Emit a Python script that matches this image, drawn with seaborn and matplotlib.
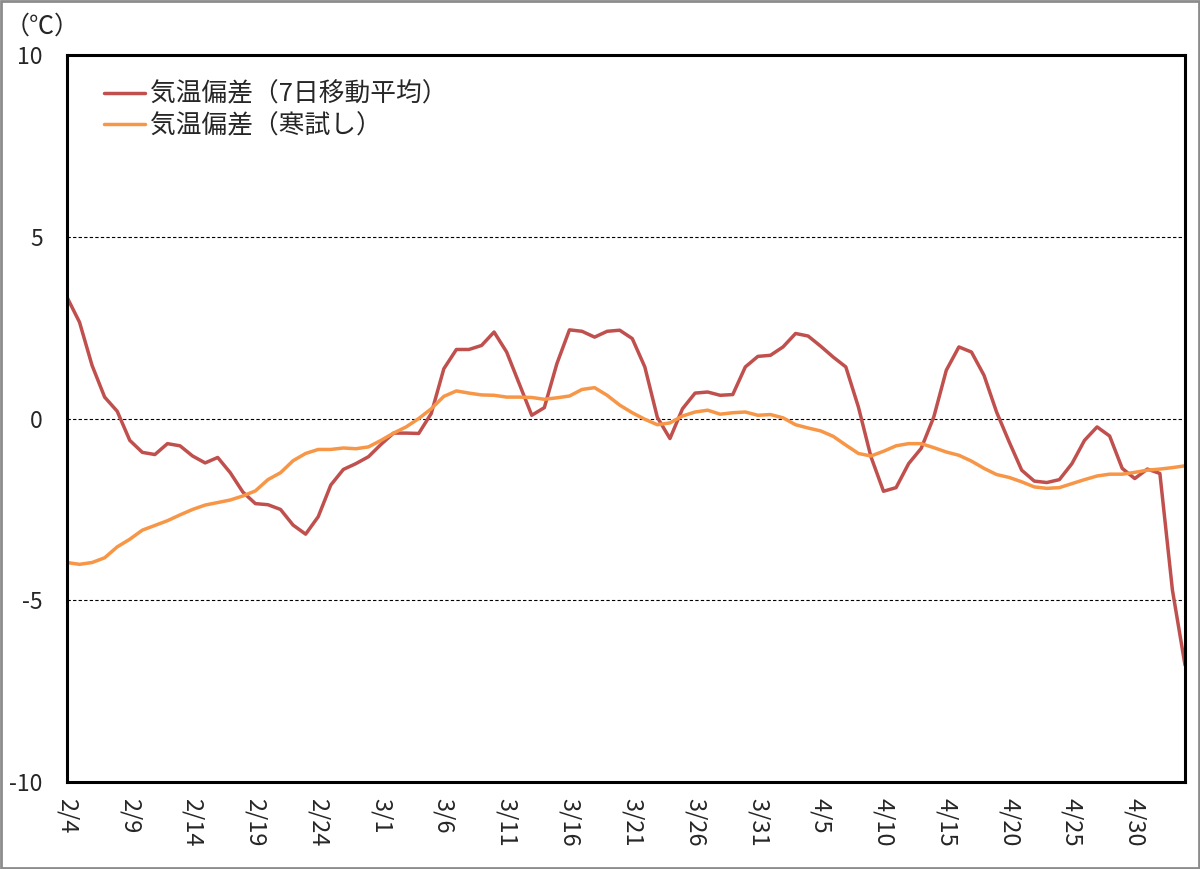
"""
気温偏差（7日移動平均）と寒試しの比較グラフ
"""

import pandas as pd
import seaborn as sns
import matplotlib.pyplot as plt

# 2/4 から 5/4 までの日付（平年）
dates = pd.date_range("2019-02-04", "2019-05-04", freq="D")

temp_7day = [
    3.34, 2.65, 1.46, 0.59, 0.20, -0.60, -0.93, -0.99, -0.69, -0.75,
    -1.03, -1.22, -1.07, -1.49, -2.02, -2.34, -2.37, -2.50, -2.93, -3.18,
    -2.70, -1.83, -1.40, -1.24, -1.05, -0.71, -0.40, -0.40, -0.41, 0.14,
    1.37, 1.90, 1.90, 2.01, 2.38, 1.83, 0.96, 0.09, 0.30, 1.51,
    2.44, 2.40, 2.24, 2.40, 2.43, 2.20, 1.42, 0.03, -0.55, 0.27,
    0.70, 0.73, 0.64, 0.66, 1.42, 1.71, 1.74, 1.97, 2.34, 2.27,
    1.99, 1.69, 1.42, 0.32, -1.05, -2.00, -1.90, -1.24, -0.82, 0.04,
    1.33, 1.97, 1.83, 1.19, 0.18, -0.64, -1.42, -1.72, -1.76, -1.68,
    -1.24, -0.60, -0.23, -0.48, -1.37, -1.65, -1.39, -1.51, -4.72, -6.78,
]

temp_kandameshi = [
    -3.96, -4.01, -3.96, -3.83, -3.53, -3.32, -3.07, -2.94, -2.81, -2.65,
    -2.50, -2.38, -2.31, -2.24, -2.13, -1.99, -1.68, -1.49, -1.16, -0.96,
    -0.85, -0.85, -0.81, -0.83, -0.78, -0.60, -0.40, -0.23, 0.00, 0.27,
    0.61, 0.76, 0.70, 0.65, 0.64, 0.59, 0.59, 0.58, 0.53, 0.57,
    0.62, 0.80, 0.85, 0.64, 0.37, 0.16, -0.02, -0.17, -0.12, 0.07,
    0.18, 0.23, 0.12, 0.16, 0.18, 0.09, 0.11, 0.02, -0.17, -0.26,
    -0.34, -0.49, -0.73, -0.96, -1.03, -0.90, -0.75, -0.69, -0.69, -0.80,
    -0.92, -1.01, -1.17, -1.37, -1.54, -1.62, -1.74, -1.88, -1.92, -1.90,
    -1.79, -1.68, -1.58, -1.53, -1.53, -1.48, -1.42, -1.39, -1.35, -1.30,
]

series_names = ["気温偏差（7日移動平均）", "気温偏差（寒試し）"]
series_colors = ["#C0504D", "#F79646"]
y_ticks = [10, 5, 0, -5, -10]

sns.set_style("white")
plt.rcParams["font.family"] = ["Noto Sans CJK JP", "DejaVu Sans"]

day = list(range(len(dates)))
df = pd.concat([
    pd.DataFrame({"day": day, "value": temp_7day, "series": series_names[0]}),
    pd.DataFrame({"day": day, "value": temp_kandameshi, "series": series_names[1]}),
])

fig = plt.figure(figsize=(12, 8.69), dpi=100)
ax = fig.add_axes([0.0558, 0.1, 0.9317, 0.8367])

sns.lineplot(
    data=df, x="day", y="value", hue="series",
    palette=dict(zip(series_names, series_colors)),
    linewidth=2.5, ax=ax,
)

ax.set_xlim(0, len(dates) - 1)
ax.set_ylim(-10, 10)
ax.set_yticks(y_ticks)
ax.set_yticklabels([str(v) for v in y_ticks], fontsize=16.5)
for v in [5, 0, -5]:
    ax.axhline(v, color="black", linestyle=(0, (3, 2)), linewidth=0.8, zorder=0)

tick_pos = day[::5][:18]
ax.set_xticks(tick_pos)
ax.set_xticklabels(
    [f"{dates[i].month}/{dates[i].day}" for i in tick_pos],
    rotation=270, fontsize=17, va="top", ha="center",
)
ax.tick_params(axis="both", direction="out", length=6.5, width=0.8, color="#999999")
ax.tick_params(axis="y", pad=11)
ax.tick_params(axis="x", pad=5)
ax.set_xlabel("")
ax.set_ylabel("")

for side in ["left", "right", "top", "bottom"]:
    ax.spines[side].set_color("black")
    ax.spines[side].set_linewidth(2.2)

ax.legend(
    loc="upper left", frameon=False, fontsize=18.5,
    handlelength=1.6, handletextpad=0.2, labelspacing=0.2,
    bbox_to_anchor=(0.012, 0.995),
)

fig.text(0.004, 0.969, "（℃）", fontsize=18, ha="left", va="center")

# 図全体の枠
fig.patches.append(plt.Rectangle(
    (0.001, 0.001), 0.998, 0.998, transform=fig.transFigure,
    fill=False, edgecolor="#8c8c8c", linewidth=2,
))

plt.savefig("out.png", dpi=100)
